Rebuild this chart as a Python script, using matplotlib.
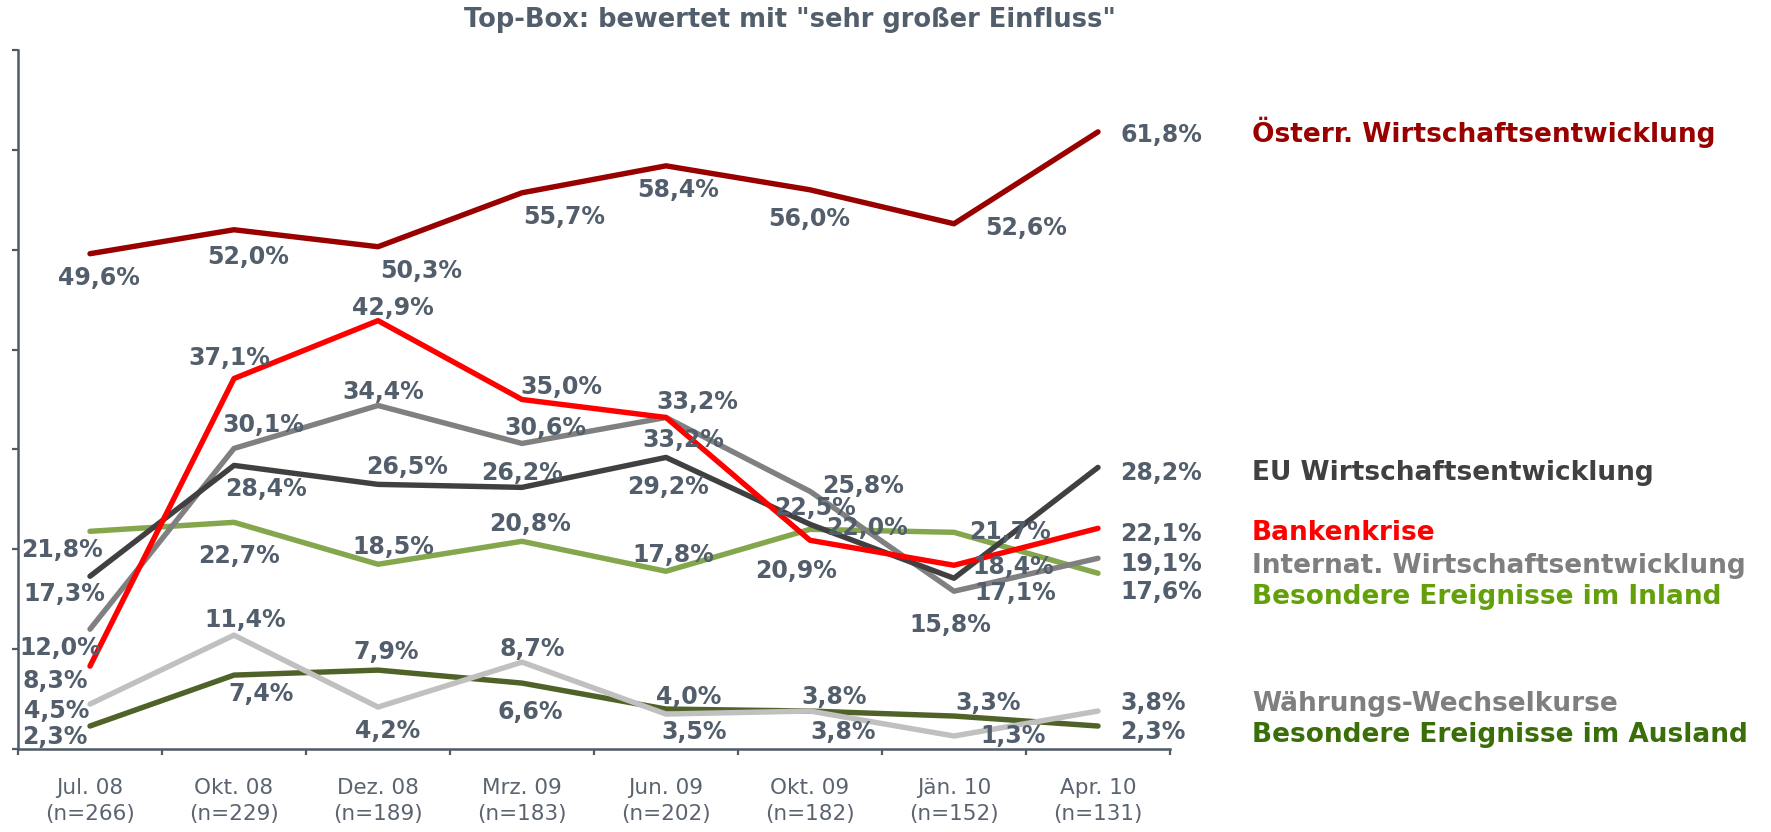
import matplotlib
matplotlib.use("Agg")
import matplotlib.pyplot as plt

# ---------------- data ----------------
categories = ["Jul. 08", "Okt. 08", "Dez. 08", "Mrz. 09", "Jun. 09", "Okt. 09", "Jän. 10", "Apr. 10"]
sample_sizes = [266, 229, 189, 183, 202, 182, 152, 131]

oesterr = [49.6, 52.0, 50.3, 55.7, 58.4, 56.0, 52.6, 61.8]
bankenkrise = [8.3, 37.1, 42.9, 35.0, 33.2, 20.9, 18.4, 22.1]
internat = [12.0, 30.1, 34.4, 30.6, 33.2, 25.8, 15.8, 19.1]
eu = [17.3, 28.4, 26.5, 26.2, 29.2, 22.5, 17.1, 28.2]
inland = [21.8, 22.7, 18.5, 20.8, 17.8, 22.0, 21.7, 17.6]
waehrung = [4.5, 11.4, 4.2, 8.7, 3.5, 3.8, 1.3, 3.8]
ausland = [2.3, 7.4, 7.9, 6.6, 4.0, 3.8, 3.3, 2.3]

series_names = [
    "Besondere Ereignisse im Ausland",
    "Währungs-Wechselkurse",
    "Besondere Ereignisse im Inland",
    "Internat. Wirtschaftsentwicklung",
    "EU Wirtschaftsentwicklung",
    "Bankenkrise",
    "Österr. Wirtschaftsentwicklung",
]
series_values = [ausland, waehrung, inland, internat, eu, bankenkrise, oesterr]

title = 'Top-Box: bewertet mit "sehr großer Einfluss"'

# ---------------- styles / positions ----------------
line_colors = ["#4F6228", "#C0C0C0", "#84A64C", "#808080", "#404040", "#FF0000", "#990000"]
name_colors = ["#3A6E08", "#7F7F7F", "#64A00A", "#7F7F7F", "#404040", "#FF0000", "#990000"]
# label offsets (dx, dy-down) in pixels for the first seven points
label_offsets = [
    [(-35, 11), (27, 19), (8, -18), (8, 29), (23, -12), (24, -14), (34, -13)],
    [(-33, 7), (11, -15), (10, 24), (10, -13), (28, 18), (33, 21), (59, 0)],
    [(-28, 19), (5, 34), (15, -17), (8, -17), (7, -16), (57, -1), (56, 0)],
    [(-30, 19), (29, -23), (5, -13), (23, -15), (17, 23), (53, -5), (-4, 34)],
    [(-26, 18), (32, 24), (29, -17), (0, -14), (2, 30), (5, -16), (61, 15)],
    [(-35, 15), (-5, -21), (15, -13), (39, -13), (31, -15), (-14, 31), (59, 2)],
    [(9, 24), (14, 27), (43, 24), (42, 24), (12, 24), (-1, 29), (72, 4)],
]
last_label_dy = [6, -8, 19, 6, 6, 6, 3]
name_dy = [9, -7, 24, 8, 6, 5, 0]

label_color = "#525E6B"
axis_color = "#4F5B66"

W, H = 1771, 832
fig = plt.figure(figsize=(W / 100, H / 100), dpi=100)
ax = fig.add_axes([18 / W, 1 - 749 / H, (1170 - 18) / W, (749 - 50) / H])

x = list(range(len(categories)))
for vals, col in zip(series_values, line_colors):
    ax.plot(x, vals, color=col, lw=3.9, solid_capstyle="round", solid_joinstyle="round", zorder=2)

def fmt(v):
    return f"{v:.1f}".replace(".", ",") + "%"

for vals, offs, ldy, ndy, name, ncol in zip(series_values, label_offsets, last_label_dy,
                                            name_dy, series_names, name_colors):
    for i, (dx, dy) in enumerate(offs):
        ax.annotate(fmt(vals[i]), xy=(x[i], vals[i]), xytext=(dx, -dy),
                    textcoords="offset pixels", ha="center", va="center",
                    fontsize=17, fontweight="bold", color=label_color, zorder=5)
    ax.annotate(fmt(vals[-1]), xy=(x[-1], vals[-1]), xytext=(22, -ldy),
                textcoords="offset pixels", ha="left", va="center",
                fontsize=17, fontweight="bold", color=label_color, zorder=5)
    ax.annotate(name, xy=(x[-1], vals[-1]), xytext=(154, -ndy),
                textcoords="offset pixels", ha="left", va="center",
                fontsize=19, fontweight="bold", color=ncol, annotation_clip=False)

ax.set_xlim(-0.5, len(categories) - 0.5)
ax.set_ylim(0, 70)

for s in ["top", "right"]:
    ax.spines[s].set_visible(False)
for s in ["left", "bottom"]:
    ax.spines[s].set_color(axis_color)
    ax.spines[s].set_linewidth(1.8)

ax.set_yticks(range(0, 71, 10))
ax.set_yticklabels([])
ax.tick_params(axis="y", direction="out", length=4.5, width=1.6, color=axis_color)

ax.set_xticks(x)
ax.set_xticklabels([f"{c}\n(n={n})" for c, n in zip(categories, sample_sizes)],
                   fontsize=15.5, color="#5A6470", linespacing=1.35)
ax.tick_params(axis="x", which="major", length=0, pad=21)
ax.set_xticks([i - 0.5 for i in range(len(categories) + 1)], minor=True)
ax.tick_params(axis="x", which="minor", direction="out", length=4.5, width=1.6, color=axis_color)

fig.text(790 / W, 1 - 20 / H, title, ha="center", va="center",
         fontsize=18.5, fontweight="bold", color=label_color)

fig.savefig("out.png", dpi=100)
